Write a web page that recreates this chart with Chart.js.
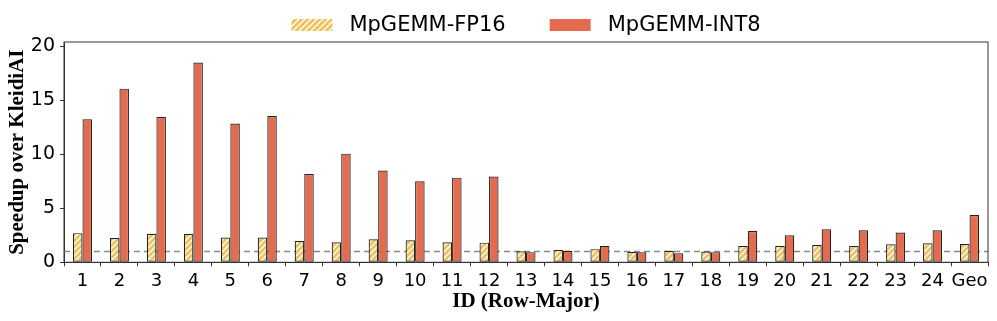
<!DOCTYPE html>
<html>
<head>
<meta charset="utf-8">
<script src="https://cdn.jsdelivr.net/npm/chart.js@4/dist/chart.umd.min.js"></script>
<style>
  html, body { margin: 0; padding: 0; background: #fff; }
  #wrap { width: 997px; height: 321px; }
</style>
</head>
<body>
<div id="wrap"><canvas id="speedupChart" width="997" height="321"></canvas></div>
<script>

// DATA
const categories = ["1","2","3","4","5","6","7","8","9","10","11","12",
                    "13","14","15","16","17","18","19","20","21","22","23","24","Geo"];

const fp16Speedup = [2.70, 2.24, 2.64, 2.64, 2.30, 2.30, 1.98, 1.86, 2.13, 2.04, 1.85, 1.82,
                     1.03, 1.15, 1.22, 0.97, 1.06, 0.99, 1.52, 1.52, 1.60, 1.50, 1.67, 1.76, 1.70];

const int8Speedup = [13.24, 16.08, 13.45, 18.50, 12.85, 13.55, 8.18, 10.06, 8.49, 7.50, 7.84, 7.94,
                     0.94, 1.06, 1.52, 0.92, 0.84, 0.94, 2.90, 2.50, 3.06, 2.96, 2.75, 2.96, 4.37];

const yTicks = [0, 5, 10, 15, 20];
const baselineValue = 1;


// HATCH PATTERN FOR FP16
function makeHatch(){

    const s = 6;
    const c = document.createElement("canvas");
    c.width = s;
    c.height = s;
    const g = c.getContext("2d");

    g.fillStyle = "#eec35f";
    g.fillRect(0, 0, s, s);

    g.strokeStyle = "#ffffff";
    g.lineWidth = 1.3;
    g.beginPath();
    g.moveTo(0, s); g.lineTo(s, 0);
    g.moveTo(-1, 1); g.lineTo(1, -1);
    g.moveTo(s - 1, s + 1); g.lineTo(s + 1, s - 1);
    g.stroke();

    return document.getElementById("speedupChart").getContext("2d").createPattern(c, "repeat");

}

const hatch = makeHatch();
const int8Color = "#e56b4f";


// DASHED BASELINE + FRAME + LEGEND
const extras = {

    id: "extras",

    beforeDatasetsDraw(chart){

        const {ctx, chartArea, scales} = chart;
        const y = scales.y.getPixelForValue(baselineValue);

        ctx.save();
        ctx.strokeStyle = "#8a8a8a";
        ctx.lineWidth = 1.5;
        ctx.setLineDash([6, 4]);
        ctx.beginPath();
        ctx.moveTo(chartArea.left, y);
        ctx.lineTo(chartArea.right, y);
        ctx.stroke();
        ctx.restore();

    },

    afterDraw(chart){

        const {ctx, chartArea} = chart;

        ctx.save();
        ctx.strokeStyle = "#333";
        ctx.lineWidth = 1;
        ctx.strokeRect(chartArea.left, chartArea.top, chartArea.right - chartArea.left, chartArea.bottom - chartArea.top);

        // legend
        ctx.font = "21px 'DejaVu Sans'";
        ctx.textBaseline = "middle";
        ctx.fillStyle = "#000";

        const boxW = 41, boxH = 12, gap = 17, itemGap = 44;
        const items = chart.data.datasets.map(ds => ({
            label: ds.label,
            fill: ds.backgroundColor,
            w: boxW + gap + ctx.measureText(ds.label).width
        }));

        const total = items.reduce((a, it) => a + it.w, 0) + itemGap * (items.length - 1);
        let x = (chartArea.left + chartArea.right) / 2 - total / 2;
        const cy = 25;

        items.forEach(it => {
            ctx.fillStyle = it.fill;
            ctx.fillRect(x, cy - boxH / 2, boxW, boxH);
            ctx.fillStyle = "#000";
            ctx.fillText(it.label, x + boxW + gap, cy + 1);
            x += it.w + itemGap;
        });

        ctx.restore();

    }

};


// CHART
new Chart(

    document.getElementById("speedupChart"),

    {
        type:"bar",
        data:{
            labels:categories,
            datasets:[
                {
                    label:"MpGEMM-FP16",
                    data:fp16Speedup,
                    backgroundColor:hatch,
                    borderColor:"#222",
                    borderWidth:1.2,
                    borderSkipped:false
                },
                {
                    label:"MpGEMM-INT8",
                    data:int8Speedup,
                    backgroundColor:int8Color,
                    borderColor:"#222",
                    borderWidth:1.2,
                    borderSkipped:false
                }
            ]
        },
        options:{
            responsive:false,
            animation:false,
            categoryPercentage:0.515,
            barPercentage:1,
            layout:{
                padding:{top:42, right:9, left:0, bottom:0}
            },
            plugins:{
                legend:{display:false},
                tooltip:{enabled:false}
            },
            scales:{
                x:{
                    grid:{
                        drawOnChartArea:false,
                        tickLength:4,
                        color:"#333"
                    },
                    border:{color:"#333"},
                    ticks:{
                        color:"#000",
                        padding:4,
                        maxRotation:0,
                        autoSkip:false,
                        font:{family:"'DejaVu Sans'", size:18}
                    },
                    title:{
                        display:true,
                        text:"ID (Row-Major)",
                        color:"#000",
                        padding:{top:0, bottom:7},
                        font:{family:"'Liberation Serif'", size:21, weight:"bold"}
                    },
                    afterFit(scale){ scale.height = 58.7; }
                },
                y:{
                    min:0,
                    max:20.4,
                    grid:{
                        drawOnChartArea:false,
                        tickLength:4,
                        color:"#333"
                    },
                    border:{color:"#333"},
                    ticks:{
                        color:"#000",
                        padding:5,
                        includeBounds:false,
                        stepSize:5,
                        font:{family:"'DejaVu Sans'", size:19}
                    },
                    afterBuildTicks(scale){
                        scale.ticks = yTicks.map(v => ({value:v}));
                    },
                    title:{
                        display:true,
                        text:"Speedup over KleidiAI",
                        color:"#000",
                        padding:{top:5, bottom:0},
                        font:{family:"'Liberation Serif'", size:21, weight:"bold"}
                    },
                    afterFit(scale){ scale.width = 64; }
                }
            }
        },
        plugins:[extras]
    }

);

</script>
</body>
</html>
